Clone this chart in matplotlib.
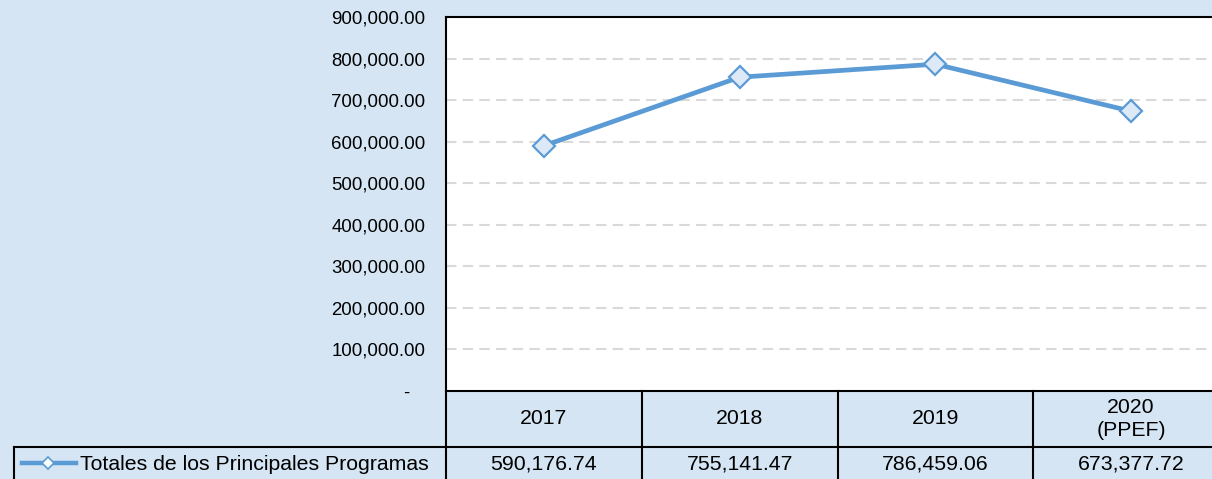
import matplotlib.pyplot as plt
from matplotlib.lines import Line2D

# datos
anios = ["2017", "2018", "2019", "2020\n(PPEF)"]
totales = [590176.74, 755141.47, 786459.06, 673377.72]
serie = "Totales de los Principales Programas"
yticks = [0, 100000, 200000, 300000, 400000, 500000, 600000, 700000, 800000, 900000]

W, H = 1212, 479
fondo = "#d5e5f3"
azul = "#5b9bd5"

plt.rcParams['font.family'] = ['Liberation Sans', 'DejaVu Sans']

fig = plt.figure(figsize=(W / 100, H / 100), dpi=100, facecolor=fondo)

# area de la grafica en pixeles
x0, x1 = 446, 1229
y_top, y_bot = 17, 391
ax = fig.add_axes([x0 / W, (H - y_bot) / H, (x1 - x0) / W, (y_bot - y_top) / H])
ax.set_facecolor("white")

xs = list(range(len(anios)))
ax.plot(xs, totales, color=azul, lw=3.4, marker="D", ms=11,
        mfc="#dde9f6", mec=azul, mew=1.6, zorder=3)

ax.set_xlim(-0.5, len(anios) - 0.5)
ax.set_ylim(0, 900000)
ax.set_yticks(yticks)
# formato contable: el cero se muestra como guion
ax.set_yticklabels(["-   "] + ["{:,.2f}".format(v) for v in yticks[1:]])
ax.tick_params(axis="y", length=0, pad=15, labelsize=13.4)
ax.set_xticks([])
for v in yticks[1:-1]:
    ax.axhline(v, color="#d9d9d9", lw=1.5, ls=(0, (5, 3)), zorder=1)
for s in ax.spines.values():
    s.set_color("black")
    s.set_linewidth(1.5)

# tabla de datos debajo
def py(yp):
    return (H - yp) / H

row1, row2 = 447, 481
fs = 15.3
cell = (x1 - x0) / len(anios)
for i in range(len(anios) + 1):
    xl = x0 + i * cell
    fig.add_artist(Line2D([xl / W, xl / W], [py(y_bot), py(row2)],
                          color="black", lw=1.5))
fig.add_artist(Line2D([14 / W, x1 / W], [py(row1)] * 2, color="black", lw=1.5))
fig.add_artist(Line2D([14 / W, 14 / W], [py(row1), py(row2)],
                      color="black", lw=1.5))

for i, (a, v) in enumerate(zip(anios, totales)):
    xc = (x0 + (i + 0.5) * cell) / W
    fig.text(xc, py(419), a, ha="center", va="center", fontsize=fs,
             linespacing=1.3)
    fig.text(xc, py(464), "{:,.2f}".format(v), ha="center", va="center",
             fontsize=fs)

# leyenda en la celda izquierda
fig.add_artist(Line2D([22 / W, 76 / W], [py(463)] * 2, color=azul, lw=3.2))
fig.add_artist(Line2D([48 / W], [py(463)], color=azul, marker="D", ms=6,
                      mfc="white", mec=azul, mew=1.2))
fig.text(80 / W, py(464), serie, ha="left", va="center", fontsize=fs)

fig.savefig("out.png", dpi=100, facecolor=fondo)
